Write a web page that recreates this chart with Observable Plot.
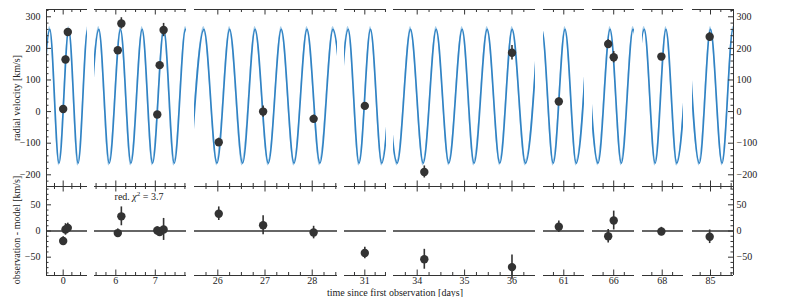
<!DOCTYPE html>
<html><head><meta charset="utf-8">
<script src="https://cdn.jsdelivr.net/npm/d3@7"></script>
<script src="https://cdn.jsdelivr.net/npm/@observablehq/plot@0.6"></script>
<style>
body{margin:0;background:#fff;}
#chart{position:relative;width:793px;height:297px;font-family:"Liberation Serif",serif;overflow:hidden;background:#fff;}
#chart svg{position:absolute;}
.lab{position:absolute;font-size:10px;color:#222;white-space:nowrap;line-height:1;}
</style></head><body><div id="chart"></div>
<script>
// ---- observations (days since first observation) ----
const obsTime  = [0.00, 0.067, 0.133, 6.05, 6.14, 7.05, 7.11, 7.21, 26.02, 26.96, 28.03, 31.00, 34.15, 36.00, 60.88, 65.87, 66.00, 67.98, 84.98];
const obsRV    = [8, 165, 252, 194, 279, -9, 147, 258, -97, 0, -23, 18, -191, 186, 32, 214, 172, 174, 237];
const obsErr   = [8, 11, 9, 8, 18, 7, 8, 21, 13, 18, 12, 11, 19, 23, 11, 13, 18, 8, 13];
const residual = [-19, 3, 6, -4, 28, 1, -2, 3, 33, 11, -3, -42, -54, -69, 8, -10, 20, -1, -11];

// ---- model curve: extrema ----
const modelPeakTimes = [-0.385, 0.16, 0.705,
  5.57, 6.119, 6.668, 7.215, 7.765,
  25.705, 26.25, 26.79, 27.345, 27.89, 28.44,
  30.598, 31.138, 31.68,
  33.31, 33.859, 34.401, 34.949, 35.477, 36.004, 36.545,
  60.47, 61.03, 61.575,
  65.36, 65.915, 66.455,
  67.57, 68.09, 68.63,
  84.46, 85.0, 85.545];
const modelTroughTimes = [-0.66, -0.12, 0.43, 0.98,
  5.30, 5.834, 6.383, 6.93, 7.48, 8.04,
  25.43, 25.982, 26.525, 27.07, 27.615, 28.163, 28.71,
  30.33, 30.86, 31.41,
  33.578, 34.127, 34.667, 35.20, 35.743, 36.285,
  60.20, 60.745, 61.30,
  65.63, 66.18, 66.72,
  67.30, 67.83, 68.35,
  84.73, 85.28, 85.82];
const modelPeakRV = 260;
const modelTroughRV = -163;
const modelSpread = 9;

// ---- broken x-axis panels ----
const panelStart = [-0.48, 5.46, 25.506, 30.508, 33.5, 60.51, 65.5, 67.526, 84.564];
const panelEnd   = [0.70, 7.79, 28.536, 31.525, 36.496, 61.5, 66.49, 68.512, 85.557];
const panelTicks = [[0], [6, 7], [26, 27, 28], [31], [34, 35, 36], [61], [66], [68], [85]];
const rvTicks = [-200, -100, 0, 100, 200, 300];
const residTicks = [-50, 0, 50];
const rvDomain = [-237, 323];
const residDomain = [-85, 85];

// ---- layout (pixels) ----
const panelLeft  = [46, 94, 194, 344, 393, 543, 592, 642, 692];
const panelWidth = [41, 92, 143, 42, 142, 41, 42, 41, 41];
const topFrame = {svgTop: 0, height: 190, mt: 9, mb: 4};
const botFrame = {svgTop: 182, height: 115, mt: 4, mb: 22};

const obs = obsTime.map((t, i) => ({t, rv: obsRV[i], err: obsErr[i], res: residual[i]}));
const model = [
  ...modelPeakTimes.map(t => ({t, v: modelPeakRV})),
  ...modelTroughTimes.map(t => ({t, v: modelTroughRV}))
].sort((a, b) => a.t - b.t);

const INK = "#333";
const chart = document.getElementById("chart");
const minorRange = (lo, hi, step) => d3.range(Math.ceil(lo / step) * step, hi + 1e-9, step);

function makePanel(i, row) {
  const s = panelStart[i], e = panelEnd[i], w = panelWidth[i];
  const isTop = row === "top";
  const F = isTop ? topFrame : botFrame;
  const ml = i === 0 ? 46 : 4, mr = i === 8 ? 60 : 4;
  const H = F.height - F.mt - F.mb;
  const yDom = isTop ? rvDomain : residDomain;
  const yMaj = isTop ? rvTicks : residTicks;
  const yMin = minorRange(yDom[0], yDom[1], isTop ? 20 : 10).filter(v => !yMaj.includes(v));
  const xMaj = panelTicks[i];
  const xMin = minorRange(s, e, 0.25).filter(v => !xMaj.includes(v) && v > s + 0.02 && v < e - 0.02);
  const inPanel = d => d.t >= s && d.t <= e;
  const pts = obs.filter(inPanel);
  const mod = model.filter(d => d.t >= s - 0.35 && d.t <= e + 0.35);
  const yKey = isTop ? "rv" : "res";

  const marks = [];
  if (isTop) {
    marks.push(
      Plot.areaY(mod, {x: "t", y1: d => d.v - modelSpread, y2: d => d.v + modelSpread, curve: "monotone-x", fill: "#8dbfe3", fillOpacity: 0.75, clip: true}),
      Plot.line(mod, {x: "t", y: "v", curve: "monotone-x", stroke: "#3183c4", strokeWidth: 1.7, clip: true})
    );
  } else {
    marks.push(Plot.ruleY([0], {stroke: INK, strokeWidth: 1.5}));
  }
  marks.push(
    Plot.ruleX(pts, {x: "t", y1: d => d[yKey] - d.err, y2: d => d[yKey] + d.err, stroke: INK, strokeWidth: 1.6}),
    Plot.dot(pts, {x: "t", y: yKey, r: 4.2, fill: INK, stroke: "none"}),
    Plot.ruleY([yDom[0], yDom[1]], {stroke: INK, strokeWidth: 1}),
    Plot.tickX(xMaj, {x: d => d, insetBottom: H - 5.5, stroke: INK}),
    Plot.tickX(xMaj, {x: d => d, insetTop: H - 5.5, stroke: INK}),
    Plot.tickX(xMin, {x: d => d, insetBottom: H - 3, stroke: INK}),
    Plot.tickX(xMin, {x: d => d, insetTop: H - 3, stroke: INK})
  );
  if (!isTop) {
    marks.push(Plot.axisX({anchor: "bottom", ticks: xMaj, tickSize: 0, tickPadding: 1, tickFormat: d => String(d), label: null, fill: "#222"}));
  }
  if (i === 0) {
    marks.push(
      Plot.ruleX([s], {stroke: INK}),
      Plot.tickY(yMaj, {y: d => d, insetRight: w - 5, stroke: INK}),
      Plot.tickY(yMin, {y: d => d, insetRight: w - 2.5, stroke: INK}),
      Plot.axisY({anchor: "left", ticks: yMaj, tickSize: 0, tickPadding: 6, label: null, fill: "#222"})
    );
  }
  if (i === 8) {
    marks.push(
      Plot.ruleX([e], {stroke: INK}),
      Plot.tickY(yMaj, {y: d => d, insetLeft: w - 5, stroke: INK}),
      Plot.tickY(yMin, {y: d => d, insetLeft: w - 2.5, stroke: INK}),
      Plot.axisY({anchor: "right", ticks: yMaj, tickSize: 0, tickPadding: 3, label: null, fill: "#222"})
    );
  }
  const svg = Plot.plot({
    width: ml + w + mr, height: F.height,
    marginLeft: ml, marginRight: mr, marginTop: F.mt, marginBottom: F.mb,
    x: {domain: [s, e], axis: null},
    y: {domain: yDom, axis: null},
    style: {background: "transparent", overflow: "visible", fontFamily: "'Liberation Serif', serif", fontSize: "10px", color: "#222"},
    marks
  });
  svg.style.left = (panelLeft[i] - ml) + "px";
  svg.style.top = F.svgTop + "px";
  chart.appendChild(svg);
}

for (let i = 0; i < panelStart.length; i++) { makePanel(i, "top"); makePanel(i, "bottom"); }

function addLabel(html, x, y, rotate, size) {
  const d = document.createElement("div");
  d.className = "lab";
  d.innerHTML = html;
  d.style.left = x + "px";
  d.style.top = y + "px";
  d.style.fontSize = (size || 10) + "px";
  d.style.transform = `translate(-50%,-50%)${rotate ? " rotate(-90deg)" : ""}`;
  chart.appendChild(d);
}
addLabel("radial velocity [km/s]", 17, 98, true, 10);
addLabel("observation - model [km/s]", 17, 230, true, 10);
addLabel("time since first observation [days]", 395, 292.5, false, 10);
addLabel("red. <i>χ</i><sup style=\"font-size:7px;vertical-align:4px;line-height:0\">2</sup> = 3.7", 139, 197, false, 10);
</script></body></html>
